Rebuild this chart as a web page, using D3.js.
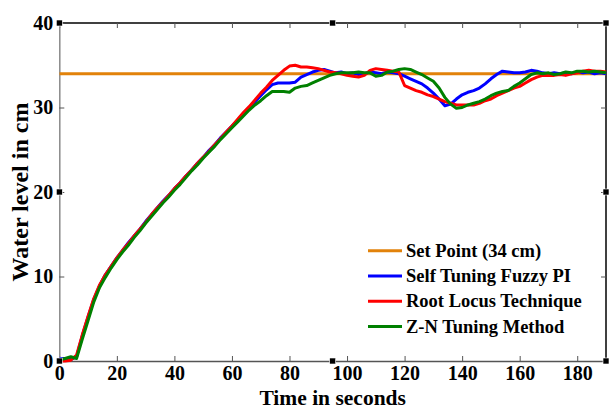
<!DOCTYPE html>
<html>
<head>
<meta charset="utf-8">
<script src="https://cdn.jsdelivr.net/npm/d3@7"></script>
<style>
html,body{margin:0;padding:0;background:#fff;}
svg{display:block;}
text{font-family:"Liberation Serif","Times New Roman",serif;font-weight:bold;fill:#000;}
</style>
</head>
<body>
<svg id="chart" width="609" height="409"></svg>
<script>
// ---- data ----
const time = [0,2,4,6,8,10,12,14,16,18,20,22,24,26,28,30,32,34,36,38,40,42,44,46,48,50,52,54,56,58,60,62,
  64,66,68,70,72,74,76,78,80,82,84,86,88,90,92,94,96,98,100,102,104,106,108,110,112,114,116,118,120,122,124,126,
  128,130,132,134,136,138,140,142,144,146,148,150,152,154,156,158,160,162,164,166,168,170,172,174,176,178,180,182,184,186,188,190];

const fuzzyPI = [0.3,0.3,0.2,0.5,3.0,5.2,7.3,8.9,10.2,11.2,12.2,13.1,14.0,14.8,15.6,16.5,17.3,18.1,18.9,19.6,20.4,21.1,21.9,22.6,23.4,24.1,24.9,25.6,26.4,27.1,27.8,28.5,
  29.3,30.0,30.7,31.4,32.1,32.7,32.9,32.9,32.9,33.0,33.6,33.9,34.2,34.4,34.5,34.3,34.1,34.2,34.0,34.1,33.9,34.0,34.2,34.1,34.0,34.2,34.1,34.0,33.7,33.4,33.1,32.8,
  32.3,31.7,31.0,30.2,30.4,31.0,31.5,31.8,32.0,32.3,32.8,33.4,33.9,34.3,34.2,34.1,34.1,34.2,34.4,34.3,34.1,34.0,34.1,34.0,34.1,34.0,34.2,34.1,34.2,34.0,34.1,34.0];

const rootLocus = [0.0,0.0,0.1,0.7,3.1,5.3,7.4,9.0,10.2,11.2,12.2,13.1,13.9,14.8,15.6,16.4,17.3,18.1,18.8,19.6,20.4,21.1,21.9,22.6,23.4,24.1,24.8,25.6,26.3,27.1,27.8,28.6,
  29.4,30.1,30.9,31.7,32.4,33.2,33.8,34.4,34.9,35.0,34.8,34.8,34.7,34.6,34.4,34.2,34.1,34.0,33.8,33.7,33.6,33.8,34.4,34.6,34.5,34.4,34.3,34.2,32.6,32.3,32.0,31.8,
  31.5,31.3,31.0,30.7,30.5,30.3,30.3,30.3,30.3,30.5,30.8,31.0,31.4,31.7,32.0,32.3,32.5,32.9,33.3,33.6,33.8,33.8,33.8,33.9,33.8,34.0,34.1,34.3,34.4,34.3,34.3,34.2];

const zieglerNichols = [0.1,0.3,0.5,0.3,2.6,4.8,7.0,8.7,9.9,11.0,12.0,12.9,13.7,14.6,15.4,16.3,17.1,17.9,18.7,19.4,20.2,20.9,21.7,22.5,23.2,24.0,24.7,25.4,26.2,26.9,27.6,28.3,
  29.0,29.7,30.3,30.8,31.4,31.9,31.9,31.9,31.8,32.3,32.5,32.6,32.9,33.2,33.5,33.8,34.0,34.1,34.1,34.1,34.2,34.1,34.1,33.7,33.8,34.2,34.3,34.5,34.6,34.5,34.2,33.9,
  33.5,33.1,32.3,31.2,30.4,29.9,30.0,30.3,30.5,30.7,31.0,31.4,31.7,31.9,32.0,32.5,32.9,33.4,33.9,34.1,34.0,34.1,33.9,34.0,34.2,34.1,34.3,34.3,34.2,34.3,34.2,34.1];

const setTime = [0,190];
const setValue = [34,34];

const xTicks = [0,20,40,60,80,100,120,140,160,180];
const yTicks = [0,10,20,30,40];

const legendLabels = ["Set Point (34 cm)","Self Tuning Fuzzy PI","Root Locus Technique","Z-N Tuning Method"];
const colors = ["#E2820A","#0000FF","#FF0000","#008000"];

// ---- chart ----
const svg = d3.select("#chart");
const L = 59.3, R = 606, T = 23, B = 361;
const x = d3.scaleLinear().domain([0,190]).range([L,R]);
const y = d3.scaleLinear().domain([0,40]).range([B,T]);

svg.append("defs").append("clipPath").attr("id","clip")
  .append("rect").attr("x",L).attr("y",T-4).attr("width",R-L+2).attr("height",B-T+6);

// frame: top & right black
svg.append("line").attr("x1",L).attr("x2",R).attr("y1",T).attr("y2",T).attr("stroke","#000").attr("stroke-width",1.5);
svg.append("line").attr("x1",R).attr("x2",R).attr("y1",T).attr("y2",B).attr("stroke","#000").attr("stroke-width",1.5);

// axes
const xAxisB = d3.axisBottom(x).tickValues(xTicks).tickSizeInner(-5).tickSizeOuter(0).tickPadding(5);
const gxb = svg.append("g").attr("transform",`translate(0,${B})`).call(xAxisB);
gxb.select(".domain").attr("stroke","#555").attr("stroke-width",1.5);
gxb.selectAll(".tick line").attr("stroke","#555");
gxb.selectAll("text").style("font-size","20px").attr("fill","#000");

const xAxisT = d3.axisTop(x).tickValues(xTicks).tickSizeInner(-5).tickSizeOuter(0).tickFormat("");
const gxt = svg.append("g").attr("transform",`translate(0,${T})`).call(xAxisT);
gxt.select(".domain").remove();
gxt.selectAll(".tick line").attr("stroke","#555");

const yAxisL = d3.axisLeft(y).tickValues(yTicks).tickSizeInner(-5).tickSizeOuter(0).tickPadding(6);
const gyl = svg.append("g").attr("transform",`translate(${L},0)`).call(yAxisL);
gyl.select(".domain").attr("stroke","#8a8a8a").attr("stroke-width",1.5);
gyl.selectAll(".tick line").attr("stroke","#555");
gyl.selectAll("text").style("font-size","20px").attr("fill","#000");

const yAxisR = d3.axisRight(y).tickValues(yTicks).tickSizeInner(-5).tickSizeOuter(0).tickFormat("");
const gyr = svg.append("g").attr("transform",`translate(${R},0)`).call(yAxisR);
gyr.select(".domain").remove();
gyr.selectAll(".tick line").attr("stroke","#555");

// lines
const plot = svg.append("g").attr("clip-path","url(#clip)");
const line = d3.line().x(d=>x(d[0])).y(d=>y(d[1]));
const series = [
  {t:setTime, v:setValue, c:colors[0]},
  {t:time, v:fuzzyPI, c:colors[1]},
  {t:time, v:rootLocus, c:colors[2]},
  {t:time, v:zieglerNichols, c:colors[3]}
];
series.forEach(s=>{
  plot.append("path").datum(s.t.map((tt,i)=>[tt,s.v[i]]))
    .attr("d",line).attr("fill","none").attr("stroke",s.c)
    .attr("stroke-width",3).attr("stroke-linejoin","round");
});

// selection handles (black squares)
const handles = [[L,T],[(L+R)/2,T],[R,T],[L,(T+B)/2],[R,(T+B)/2],[L,B],[(L+R)/2,B],[R,B]];
svg.selectAll("rect.h").data(handles).enter().append("rect").attr("class","h")
  .attr("x",d=>d[0]-3).attr("y",d=>d[1]-3).attr("width",6).attr("height",6)
  .attr("fill","#000").attr("stroke","#fff").attr("stroke-width",0.6);

// legend
const lg = svg.append("g");
const ly0 = 250.7, ldy = 25.3;
legendLabels.forEach((lab,i)=>{
  const yy = ly0 + i*ldy;
  lg.append("line").attr("x1",368).attr("x2",402).attr("y1",yy).attr("y2",yy)
    .attr("stroke",colors[i]).attr("stroke-width",3);
  lg.append("text").attr("x",406).attr("y",yy+6).style("font-size","18.5px").text(lab);
});

// titles
svg.append("text").attr("x",(L+R)/2).attr("y",404.5).attr("text-anchor","middle")
  .style("font-size","21.5px").text("Time in seconds");
svg.append("text").attr("transform",`translate(28,${(T+B)/2}) rotate(-90)`).attr("text-anchor","middle")
  .style("font-size","24px").text("Water level in cm");
</script>
</body>
</html>
